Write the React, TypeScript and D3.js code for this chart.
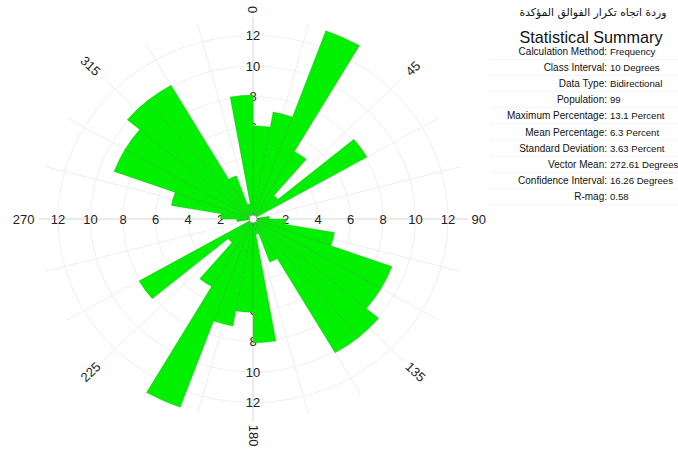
import React from "react";
import * as d3 from "d3";

// Bin start angles (degrees, clockwise from north) for the 0–180 half; the
// rose is bidirectional, so each bin is mirrored at +180.
const binStarts = [0, 10, 20, 30, 40, 50, 60, 70, 80, 90, 100, 110, 120, 130, 140, 150, 160, 170];
// Percentage of measurements in each 10-degree class
const binPercents = [6.1, 7.1, 13.1, 5.1, 2.0, 8.1, 0, 0, 1.0, 2.0, 5.1, 9.1, 9.1, 10.1, 10.1, 3.0, 1.0, 8.1];

const ringTicks = [2, 4, 6, 8, 10, 12];
const axisAngles = [0, 45, 90, 135, 180, 225, 270, 315];
const spokeAngles = d3.range(0, 360, 15);

const titleText = "وردة اتجاه تكرار الفوالق المؤكدة";
const summaryLabels = [
  "Calculation Method:",
  "Class Interval:",
  "Data Type:",
  "Population:",
  "Maximum Percentage:",
  "Mean Percentage:",
  "Standard Deviation:",
  "Vector Mean:",
  "Confidence Interval:",
  "R-mag:",
];
const summaryValues = [
  "Frequency",
  "10 Degrees",
  "Bidirectional",
  "99",
  "13.1 Percent",
  "6.3 Percent",
  "3.63 Percent",
  "272.61 Degrees",
  "16.26 Degrees",
  "0.58",
];

const W = 678;
const H = 452;
const CX = 253;
const CY = 219;
const RY = 15.3; // px per percent, vertical
const KX = 16.25 / 15.3; // horizontal stretch of the plot
const SPOKE_MAX = 13.2;
const LABEL_R = 13.45;
const FONT = "'Liberation Sans', Arial, sans-serif";

const rScale = d3.scaleLinear().domain([0, 1]).range([0, RY]);

function pos(angleDeg: number, pct: number): [number, number] {
  const a = (angleDeg * Math.PI) / 180;
  const r = rScale(pct);
  return [CX + Math.sin(a) * r * KX, CY - Math.cos(a) * r];
}

export default function App() {
  const bins = binStarts.flatMap((s, i) => [
    { start: s, value: binPercents[i] },
    { start: s + 180, value: binPercents[i] },
  ]);
  const arc = d3.arc<any>();
  const toRad = (d: number) => (d * Math.PI) / 180;

  return (
    <svg width={W} height={H} style={{ position: "absolute", left: 0, top: 0, background: "#fff" }}>
      {/* grid rings */}
      <g>
        {ringTicks.map((t) => (
          <ellipse
            key={t}
            cx={CX}
            cy={CY}
            rx={rScale(t) * KX}
            ry={rScale(t)}
            fill="none"
            stroke="#efefef"
            strokeWidth={1}
          />
        ))}
        {spokeAngles.map((a) => {
          const [x, y] = pos(a, SPOKE_MAX);
          const main = a % 90 === 0;
          return (
            <line
              key={a}
              x1={CX}
              y1={CY}
              x2={x}
              y2={y}
              stroke={main ? "#d6d6d6" : "#eeeeee"}
              strokeWidth={1}
            />
          );
        })}
      </g>

      {/* radial percentage labels along the four main axes */}
      <g fontFamily={FONT} fontSize={13} fill="#222">
        {[0, 90, 180, 270].flatMap((a) =>
          ringTicks.map((t) => {
            const [x, y] = pos(a, t);
            return (
              <text key={`${a}-${t}`} x={x} y={y} textAnchor="middle" dominantBaseline="central">
                {t}
              </text>
            );
          })
        )}
      </g>

      {/* rose petals */}
      <g transform={`translate(${CX},${CY}) scale(${KX},1)`}>
        {bins
          .filter((b) => b.value > 0)
          .map((b) => (
            <path
              key={b.start}
              d={
                arc({
                  innerRadius: 0,
                  outerRadius: rScale(b.value),
                  startAngle: toRad(b.start),
                  endAngle: toRad(b.start + 10),
                }) as string
              }
              fill="#00f000"
              stroke="#12a012"
              strokeOpacity={0.5}
              strokeWidth={0.6}
              vectorEffect="non-scaling-stroke"
            />
          ))}
      </g>
      <circle cx={CX} cy={CY} r={4} fill="#fff" stroke="#999" strokeWidth={1} />

      {/* compass angle labels */}
      <g fontFamily={FONT} fontSize={13} fill="#222">
        {axisAngles.map((a) => {
          const [x, y] = pos(a, LABEL_R);
          const dx = x - CX;
          const dy = y - CY;
          let rot = (Math.atan2(dy, dx) * 180) / Math.PI;
          let anchor: "start" | "end" = "start";
          if (rot > 90.5 || rot < -90.5) {
            rot = rot > 0 ? rot - 180 : rot + 180;
            anchor = "end";
          }
          return (
            <text
              key={a}
              x={x}
              y={y}
              textAnchor={anchor}
              dominantBaseline="central"
              transform={`rotate(${rot},${x},${y})`}
            >
              {a}
            </text>
          );
        })}
      </g>

      {/* statistics panel */}
      <g fontFamily={FONT} fill="#111">
        <text x={593} y={12} textAnchor="middle" dominantBaseline="central" fontSize={10.8} fontFamily="'DejaVu Sans', sans-serif">
          {titleText}
        </text>
        <text x={591} y={37} textAnchor="middle" dominantBaseline="central" fontSize={16.2}>
          Statistical Summary
        </text>
        {summaryLabels.map((l, i) => {
          const y = 51.5 + i * 16.1;
          return (
            <g key={l}>
              <line x1={490} x2={678} y1={y + 8} y2={y + 8} stroke="#f4f4f4" strokeWidth={1} />
              <text x={607} y={y} textAnchor="end" dominantBaseline="central" fontSize={10}>
                {l}
              </text>
              <text x={610} y={y} textAnchor="start" dominantBaseline="central" fontSize={9.6}>
                {summaryValues[i]}
              </text>
            </g>
          );
        })}
      </g>
    </svg>
  );
}
